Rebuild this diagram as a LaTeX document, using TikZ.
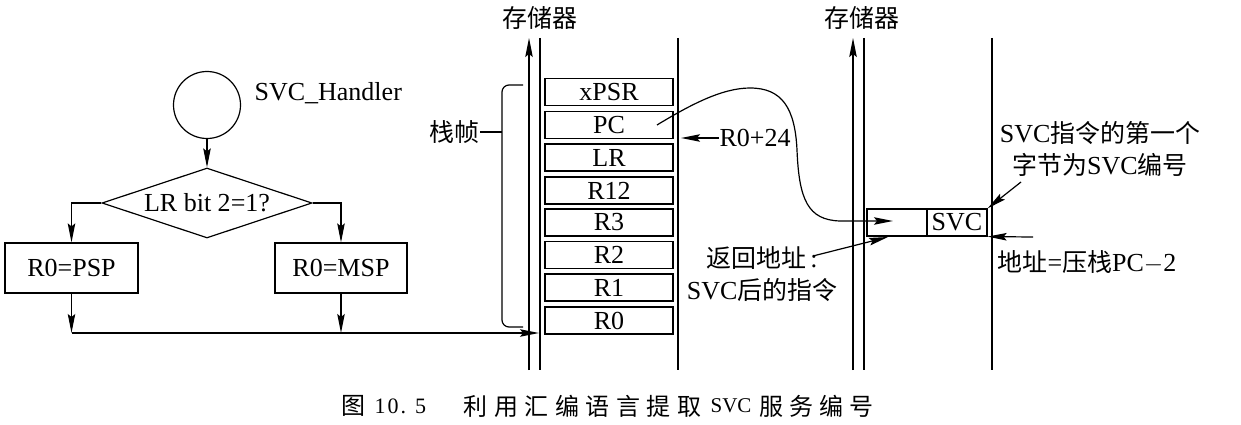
\documentclass[tikz,border=0pt]{standalone}
\usepackage{fontspec}
\setmainfont{Liberation Serif}
\newfontfamily\cjk[Scale=0.96]{Noto Sans CJK SC}
\newfontfamily\capcjk{Noto Sans CJK SC}
\newcommand{\csp}{\hspace{6.5pt}}
\usetikzlibrary{arrows.meta,shapes.geometric}
\begin{document}
\begin{tikzpicture}[x=1pt,y=-1pt,line width=1.2pt,
  every node/.style={font=\fontsize{26}{32}\selectfont,inner sep=0pt},
  arr/.style={-{Stealth[length=19pt,width=7.5pt,inset=3pt]}},
  cell/.style={draw,minimum width=128pt,minimum height=27pt},
  fbox/.style={draw,minimum width=133pt,minimum height=50pt},
  ibox/.style={draw,minimum width=60pt,minimum height=27pt},
  captext/.style={font=\fontsize{24}{28}\selectfont}]
\useasboundingbox (0,0) rectangle (1241,425);
% flowchart
\node[draw,circle,minimum size=67pt] (circ) at (207,105) {};
\node[anchor=west] (hname) at (254,93) {SVC\_Handler};
\node[draw,diamond,aspect=3,minimum width=210pt,minimum height=70pt] (dia) at (207,203) {LR bit 2=1?};
\node[fbox] (psp) at (71.5,268) {R0=PSP};
\node[fbox,minimum width=132pt] (msp) at (341,268) {R0=MSP};
\coordinate (busend) at (539,333);
\draw[arr] (circ) -- (dia);
\draw[arr] (dia.west) -| (psp.north);
\draw[arr] (dia.east) -| (msp.north);
\draw[arr] (psp.south) -- (psp.south |- busend);
\draw[arr] (msp.south) -- (msp.south |- busend);
\draw[arr] (psp.south |- busend) -- (busend);
% memory 1
\node (mem1) at (540,18) {\cjk 存储器};
\coordinate (m1b) at (529,370); \coordinate (m1t) at (529,38);
\draw[arr] (m1b) -- (m1t);
\coordinate (c1lt) at (540,38); \coordinate (c1lb) at (540,370);
\coordinate (c1rt) at (678,38); \coordinate (c1rb) at (678,370);
\draw (c1lt) -- (c1lb);
\draw (c1rt) -- (c1rb);
\node[cell] (xpsr) at (609,92) {xPSR};
\node[cell] (pc) at (609,125) {PC};
\node[cell] (lr) at (609,157.5) {LR};
\node[cell] (r12) at (609,190.5) {R12};
\node[cell] (r3) at (609,222.5) {R3};
\node[cell] (r2) at (609,255) {R2};
\node[cell] (r1) at (609,287.5) {R1};
\node[cell] (r0) at (609,320.5) {R0};
% brace
\coordinate (bt) at (523,85); \coordinate (bb) at (523,327);
\draw[rounded corners=7pt] (bt) -- (502,85) -- (502,327) -- (bb);
\node[anchor=east] (frame) at (480,132) {\cjk 栈帧};
\draw (frame.east) -- (502,132);
% R0+24
\node[anchor=west] (r024) at (719,138) {R0+24};
\coordinate (r0tip) at (681,138);
\draw[arr] (r024.west) -- (r0tip);
% memory 2
\node (mem2) at (862,18) {\cjk 存储器};
\coordinate (m2b) at (853,370); \coordinate (m2t) at (853,38);
\draw[arr] (m2b) -- (m2t);
\coordinate (c2lt) at (864,38); \coordinate (c2lb) at (864,370);
\coordinate (c2rt) at (992,38); \coordinate (c2rb) at (992,370);
\draw (c2lt) -- (c2lb);
\draw (c2rt) -- (c2rb);
\node[ibox] (svcl) at (897,222.5) {};
\node[ibox] (svcr) at (957,222.5) {SVC};
% curve from PC
\coordinate (pcdot) at (657,125);
\coordinate (rettip) at (893,221);
\draw[arr] (pcdot) .. controls (690,105) and (722,88) .. (750,88)
  .. controls (782,88) and (795,108) .. (797,150)
  .. controls (799,200) and (808,220) .. (840,221) -- (rettip);
% annotations right
\node[align=center] (n1) at (1100,149) {SVC{\cjk 指令的第一个}\\{\cjk 字节为}SVC{\cjk 编号}};
\coordinate (n1s) at (1021,182);
\draw[arr] (n1s) -- (svcr.north east);
\node (n2) at (1087,262) {{\cjk 地址}={\cjk 压栈}PC$-$2};
\coordinate (n2s) at (1033,237);
\draw[arr] (n2s) -- (svcr.south east);
% return address
\node[align=center] (ret) at (762,274) {{\cjk 返回地址}\,:\\SVC{\cjk 后的指令}};
\coordinate (rets) at (813,256);
\coordinate (rett) at (888,237);
\draw[arr] (rets) -- (rett);
% caption
\node[captext] (cap1) at (353,406) {\capcjk 图};
\node[captext,anchor=west] (cap2) at (374,406) {\fontsize{22}{26}\selectfont 1\hspace{2pt}0\hspace{2pt}.\hspace{9pt}5};
\node[captext,anchor=west] (cap3) at (463,406) {\capcjk 利\csp 用\csp 汇\csp 编\csp 语\csp 言\csp 提\csp 取};
\node[captext] (cap4) at (731,406) {\fontsize{21}{26}\selectfont SVC};
\node[captext,anchor=west] (cap5) at (759,406) {\capcjk 服\hspace{6pt}务\hspace{6pt}编\hspace{6pt}号};
\end{tikzpicture}
\end{document}
